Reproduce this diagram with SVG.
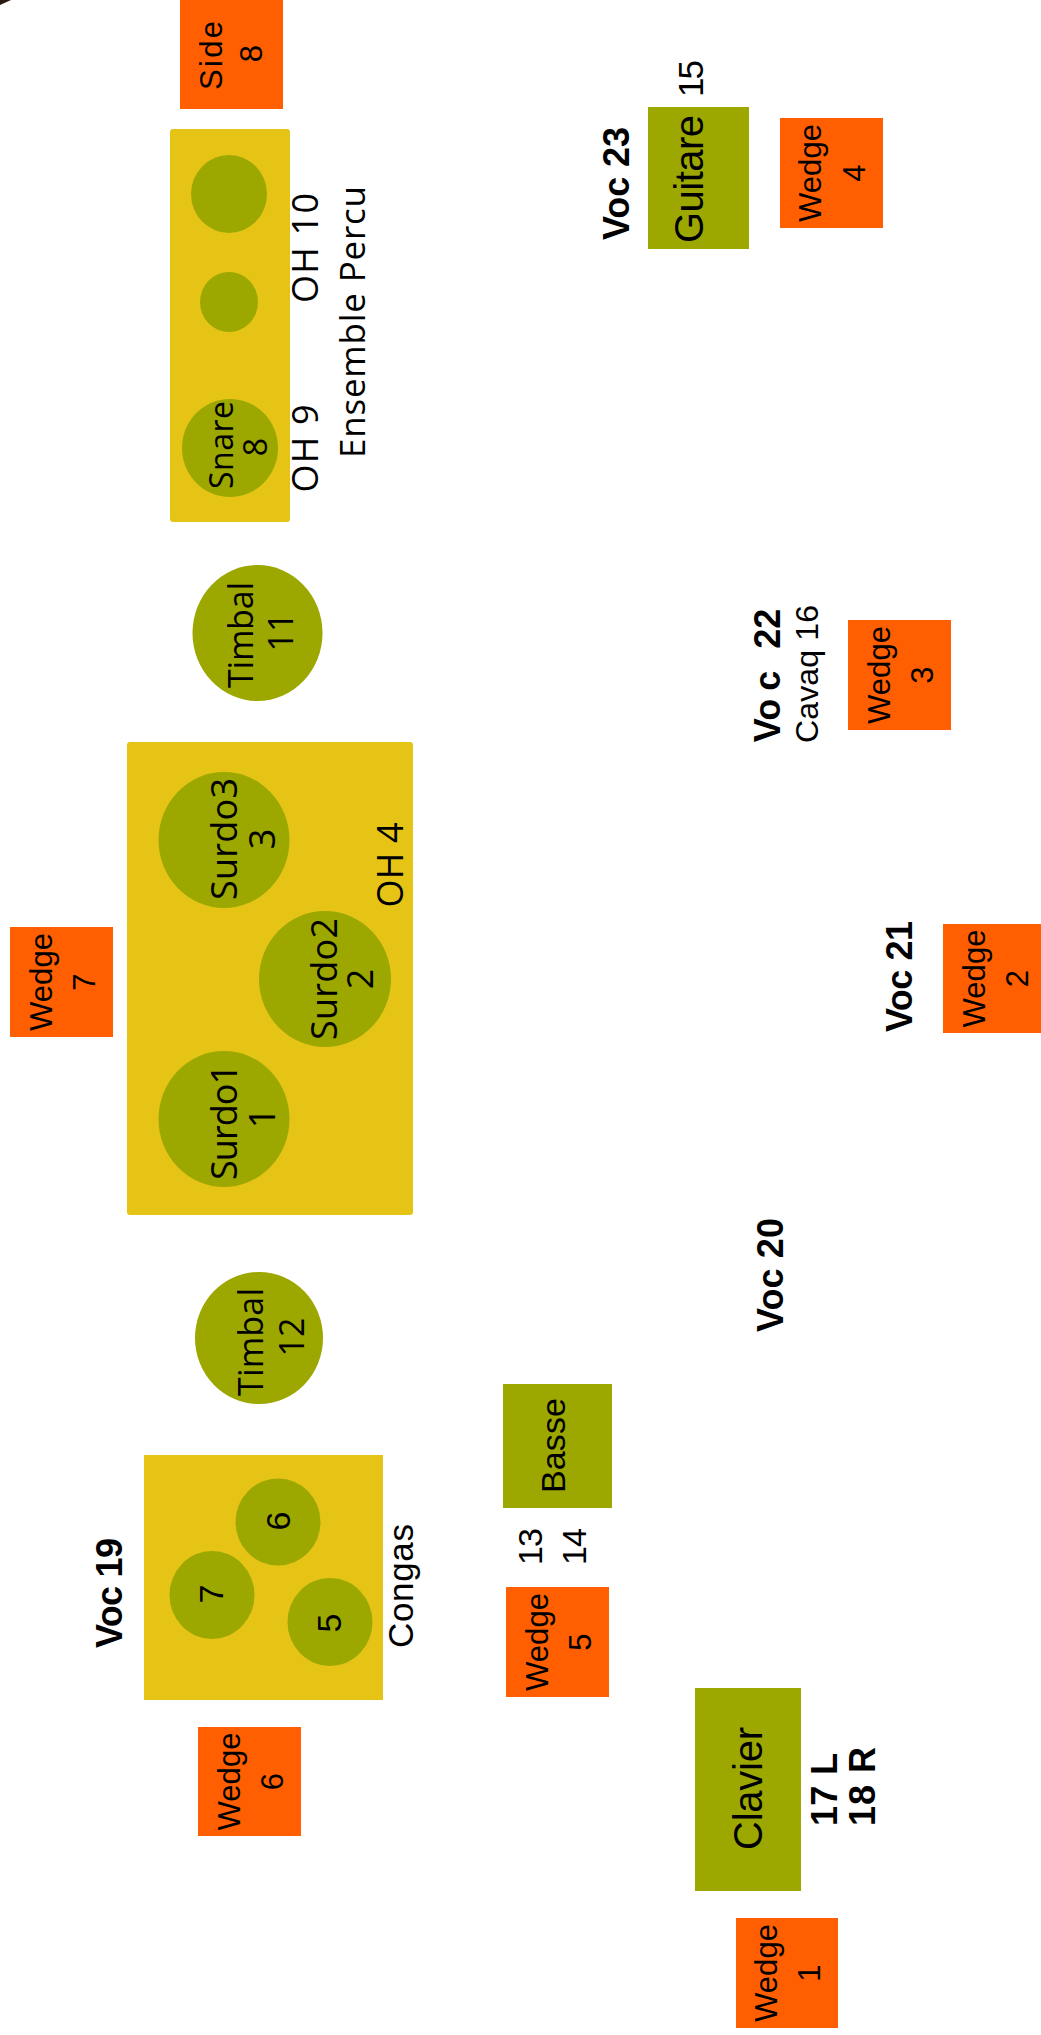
<svg xmlns="http://www.w3.org/2000/svg" width="1041" height="2035" viewBox="0 0 1041 2035">
<style>
.bg{fill:#ffffff}
.w{fill:#FF5F00}
.o{fill:#9CA800}
.y{fill:#E5C416}
text{fill:#000;font-family:"Liberation Sans",Arial,Helvetica,sans-serif;text-anchor:middle}
.m{font-family:"Open Sans","Liberation Sans",sans-serif}
.b{font-weight:bold}
.wt{font-size:31px}
.st{text-anchor:start}
</style>
<rect class="bg" x="0" y="0" width="1041" height="2035"/>
<polygon points="0,0 11,0 0,5" fill="#2a1a10"/>
<g id="connectors"></g>

<g id="side8">
<rect class="w" x="180" y="0" width="103" height="109"/>
<text class="wt" transform="translate(222,55.5) rotate(-90)" font-size="33" textLength="69">Side</text>
<text class="wt" transform="translate(262,53.5) rotate(-90)" font-size="33">8</text>
</g>

<g id="ensemble-percu">
<rect class="y" x="170" y="129" width="120" height="393" rx="3"/>
<ellipse class="o" cx="229" cy="194" rx="38" ry="39"/>
<ellipse class="o" cx="229" cy="302" rx="29" ry="30"/>
<ellipse class="o" cx="230" cy="448" rx="48" ry="49"/>
<text class="m" transform="translate(233,445) rotate(-90)" font-size="32" textLength="88">Snare</text>
<text class="m" transform="translate(267,447) rotate(-90)" font-size="32">8</text>
<text class="m" transform="translate(318,448.5) rotate(-90)" font-size="36" textLength="88">OH 9</text>
<text class="m" transform="translate(318,248) rotate(-90)" font-size="36" textLength="110">OH 10</text>
<text class="m" transform="translate(365,322) rotate(-90)" font-size="35" textLength="272">Ensemble Percu</text>
</g>

<g id="timbal11">
<ellipse class="o" cx="257.5" cy="633" rx="65" ry="68"/>
<text class="m" transform="translate(253,635) rotate(-90)" font-size="34" textLength="106">Timbal</text>
<text class="m" transform="translate(293,632) rotate(-90)" font-size="34">11</text>
</g>

<g id="wedge7">
<rect class="w" x="10" y="927" width="103" height="110"/>
<text class="wt" transform="translate(51.5,982) rotate(-90)" textLength="98">Wedge</text>
<text class="wt" transform="translate(95,982) rotate(-90)">7</text>
</g>

<g id="surdos">
<rect class="y" x="127" y="742" width="286" height="473" rx="3"/>
<ellipse class="o" cx="224" cy="840" rx="65.5" ry="68"/>
<text class="m" transform="translate(237,839) rotate(-90)" font-size="36" textLength="122">Surdo3</text>
<text class="m" transform="translate(275,839) rotate(-90)" font-size="36">3</text>
<ellipse class="o" cx="325" cy="979" rx="66" ry="68"/>
<text class="m" transform="translate(337,979) rotate(-90)" font-size="36" textLength="122">Surdo2</text>
<text class="m" transform="translate(373,979) rotate(-90)" font-size="36">2</text>
<ellipse class="o" cx="224" cy="1119" rx="65.5" ry="68"/>
<text class="m" transform="translate(237,1122) rotate(-90)" font-size="36" textLength="116">Surdo1</text>
<text class="m" transform="translate(275,1118) rotate(-90)" font-size="36">1</text>
<text class="m" transform="translate(403,865) rotate(-90)" font-size="36" textLength="85">OH 4</text>
</g>

<g id="timbal12">
<ellipse class="o" cx="259" cy="1338" rx="64" ry="66"/>
<text class="m" transform="translate(263,1342) rotate(-90)" font-size="34" textLength="108">Timbal</text>
<text class="m" transform="translate(304,1337) rotate(-90)" font-size="34">12</text>
</g>

<g id="congas">
<rect class="y" x="144" y="1455" width="239" height="245"/>
<ellipse class="o" cx="278" cy="1522" rx="42.5" ry="43.5"/>
<ellipse class="o" cx="212" cy="1595" rx="42.5" ry="44"/>
<ellipse class="o" cx="330" cy="1622" rx="42.5" ry="44"/>
<text transform="translate(290,1521) rotate(-90)" font-size="34">6</text>
<text transform="translate(223,1594) rotate(-90)" font-size="34">7</text>
<text transform="translate(341,1623) rotate(-90)" font-size="34">5</text>
<text transform="translate(413,1586) rotate(-90)" font-size="35" textLength="124">Congas</text>
</g>

<g id="voc19">
<text class="b" transform="translate(122,1593) rotate(-90)" font-size="36" textLength="110">Voc 19</text>
</g>

<g id="wedge6">
<rect class="w" x="198" y="1727" width="103" height="109"/>
<text class="wt" transform="translate(240,1781.5) rotate(-90)" textLength="98">Wedge</text>
<text class="wt" transform="translate(283,1781.5) rotate(-90)">6</text>
</g>

<g id="basse">
<rect class="o" x="503" y="1384" width="109" height="124"/>
<text transform="translate(565,1445.5) rotate(-90)" font-size="34" textLength="95">Basse</text>
<text transform="translate(542,1546.5) rotate(-90)" font-size="34" textLength="37">13</text>
<text transform="translate(586,1546.5) rotate(-90)" font-size="34" textLength="37">14</text>
</g>

<g id="wedge5">
<rect class="w" x="506" y="1587" width="103" height="110"/>
<text class="wt" transform="translate(547.5,1642) rotate(-90)" textLength="98">Wedge</text>
<text class="wt" transform="translate(591,1642) rotate(-90)">5</text>
</g>

<g id="voc20">
<text class="b" transform="translate(783,1275) rotate(-90)" font-size="36" textLength="114">Voc 20</text>
</g>

<g id="clavier">
<rect class="o" x="695" y="1688" width="106" height="203"/>
<text transform="translate(762,1788.5) rotate(-90)" font-size="40" textLength="123">Clavier</text>
<text class="b st" transform="translate(837,1826) rotate(-90)" font-size="36" textLength="73">17 L</text>
<text class="b st" transform="translate(875,1826) rotate(-90)" font-size="36" textLength="79">18 R</text>
</g>

<g id="wedge1">
<rect class="w" x="736" y="1918" width="102" height="110"/>
<text class="wt" transform="translate(777,1973) rotate(-90)" textLength="98">Wedge</text>
<text class="wt" transform="translate(820,1973) rotate(-90)">1</text>
</g>

<g id="guitare">
<rect class="o" x="648" y="107" width="101" height="142"/>
<text transform="translate(703,179) rotate(-90)" font-size="40" textLength="128">Guitare</text>
<text transform="translate(703,78.5) rotate(-90)" font-size="35" textLength="37">15</text>
</g>

<g id="voc23">
<text class="b" transform="translate(629,183.5) rotate(-90)" font-size="36" textLength="113">Voc 23</text>
</g>

<g id="wedge4">
<rect class="w" x="780" y="118" width="103" height="110"/>
<text class="wt" transform="translate(821,173) rotate(-90)" textLength="98">Wedge</text>
<text class="wt" transform="translate(865,173) rotate(-90)">4</text>
</g>

<g id="voc22">
<text class="b" transform="translate(780,675.5) rotate(-90)" font-size="36">Vo<tspan dx="8">c</tspan><tspan dx="12"> 22</tspan></text>
<text transform="translate(818,674) rotate(-90)" font-size="32" textLength="138">Cavaq 16</text>
</g>

<g id="wedge3">
<rect class="w" x="848" y="620" width="103" height="110"/>
<text class="wt" transform="translate(889.5,675) rotate(-90)" textLength="98">Wedge</text>
<text class="wt" transform="translate(933,675) rotate(-90)">3</text>
</g>

<g id="voc21">
<text class="b" transform="translate(912,976.5) rotate(-90)" font-size="36" textLength="111">Voc 21</text>
</g>

<g id="wedge2">
<rect class="w" x="943" y="924" width="103" height="109"/>
<text class="wt" transform="translate(984.5,978.5) rotate(-90)" textLength="98">Wedge</text>
<text class="wt" transform="translate(1028,978.5) rotate(-90)">2</text>
</g>
</svg>
